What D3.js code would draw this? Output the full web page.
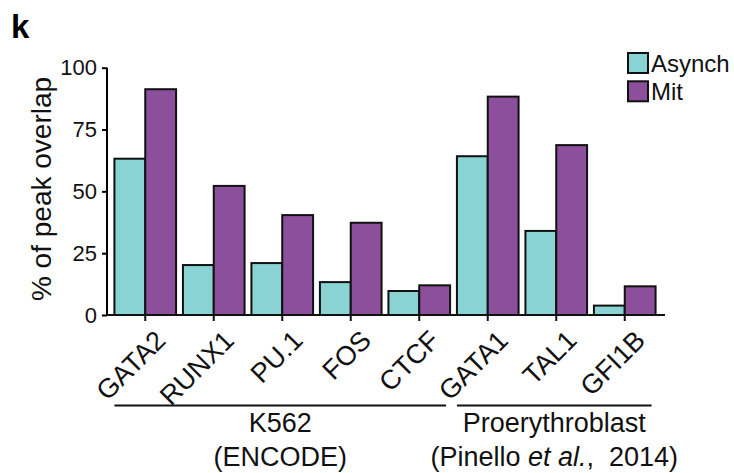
<!DOCTYPE html>
<html>
<head>
<meta charset="utf-8">
<script src="https://cdn.jsdelivr.net/npm/d3@7"></script>
<style>
  body { margin: 0; background: #fff; }
  svg { font-family: "Liberation Sans", Arial, sans-serif; }
</style>
</head>
<body>
<div id="chart"></div>
<script>
// data
const categories = ["GATA2", "RUNX1", "PU.1", "FOS", "CTCF", "GATA1", "TAL1", "GFI1B"];
const asynch = [63.2, 20.2, 21.0, 13.3, 9.7, 64.2, 34.0, 3.8];
const mit = [91.3, 52.2, 40.4, 37.3, 12.0, 88.3, 68.7, 11.6];
const seriesNames = ["Asynch", "Mit"];
const yTicks = [0, 25, 50, 75, 100];
const groups = [
  { label: "K562", sub: "(ENCODE)", first: "GATA2", last: "CTCF" },
  { label: "Proerythroblast", sub: "(Pinello|et al.|,  2014)", first: "GATA1", last: "GFI1B" }
];

const colors = ["#8ad3d5", "#8b4f9b"];
const width = 734, height = 473;
const svg = d3.select("#chart").append("svg")
  .attr("width", width)
  .attr("height", height);

const axisLeftX = 107, axisRightX = 665, baseY = 315, topY = 67.7;

const x = d3.scaleBand()
  .domain(categories)
  .range([111, 659])
  .paddingInner(0.1)
  .paddingOuter(0.05);
const xs = d3.scaleBand()
  .domain(seriesNames)
  .range([0, x.bandwidth()]);
const y = d3.scaleLinear().domain([0, 100]).range([baseY, topY]);

const rows = categories.map((c, i) => ({ cat: c, vals: [asynch[i], mit[i]] }));

// bars
const g = svg.append("g");
g.selectAll("g.cat")
  .data(rows)
  .enter().append("g")
  .attr("transform", d => "translate(" + x(d.cat) + ",0)")
  .selectAll("rect")
  .data(d => d.vals.map((v, j) => ({ v: v, s: seriesNames[j], j: j })))
  .enter().append("rect")
  .attr("x", d => xs(d.s))
  .attr("y", d => y(d.v))
  .attr("width", xs.bandwidth())
  .attr("height", d => baseY - y(d.v))
  .attr("fill", d => colors[d.j])
  .attr("stroke", "#111")
  .attr("stroke-width", 2);

// y axis
const yAxis = svg.append("g")
  .attr("transform", "translate(" + axisLeftX + ",0)")
  .call(d3.axisLeft(y).tickValues(yTicks).tickSize(5).tickPadding(5));
yAxis.select(".domain").attr("stroke-width", 2).attr("d", "M0," + topY + "V" + baseY);
yAxis.selectAll(".tick line").attr("stroke-width", 2);
yAxis.selectAll(".tick text").attr("font-size", 22).attr("fill", "#111");

// x axis
svg.append("line")
  .attr("x1", axisLeftX - 1).attr("x2", axisRightX)
  .attr("y1", baseY).attr("y2", baseY)
  .attr("stroke", "#111").attr("stroke-width", 2);

const xt = svg.append("g").selectAll("g")
  .data(categories)
  .enter().append("g")
  .attr("transform", d => "translate(" + (x(d) + x.bandwidth() / 2) + "," + baseY + ")");
xt.append("line")
  .attr("y2", 6)
  .attr("stroke", "#111").attr("stroke-width", 2);
xt.append("text")
  .attr("transform", "translate(22,27) rotate(-45)")
  .attr("text-anchor", "end")
  .attr("font-size", 27)
  .attr("fill", "#111")
  .text(d => d);

// group brackets
groups.forEach(gr => {
  const x1 = x(gr.first), x2 = x(gr.last) + x.bandwidth() - 4;
  const cx = (x1 + x2) / 2;
  svg.append("line")
    .attr("x1", x1).attr("x2", x2)
    .attr("y1", 405.5).attr("y2", 405.5)
    .attr("stroke", "#111").attr("stroke-width", 2);
  svg.append("text")
    .attr("x", cx).attr("y", 432)
    .attr("text-anchor", "middle")
    .attr("font-size", 27)
    .attr("fill", "#111")
    .text(gr.label);
  const parts = gr.sub.split("|");
  const t = svg.append("text")
    .attr("x", cx).attr("y", 466)
    .attr("text-anchor", "middle")
    .attr("font-size", 27)
    .attr("fill", "#111");
  parts.forEach((p, i) => {
    t.append("tspan")
      .attr("font-style", i === 1 ? "italic" : null)
      .attr("xml:space", "preserve")
      .text(i === 1 ? " " + p : p);
  });
});

// y label
svg.append("text")
  .attr("transform", "translate(51,189) rotate(-90)")
  .attr("text-anchor", "middle")
  .attr("font-size", 28)
  .attr("fill", "#111")
  .text("% of peak overlap");

// panel letter
svg.append("text")
  .attr("x", 11).attr("y", 38)
  .attr("font-size", 33)
  .attr("font-weight", "bold")
  .text("k");

// legend
const leg = svg.append("g").attr("transform", "translate(628,53)");
seriesNames.forEach((s, i) => {
  const row = leg.append("g").attr("transform", "translate(0," + (i * 28.3) + ")");
  row.append("rect")
    .attr("width", 20).attr("height", 20)
    .attr("fill", colors[i])
    .attr("stroke", "#111").attr("stroke-width", 2);
  row.append("text")
    .attr("x", 23).attr("y", 19)
    .attr("font-size", 24)
    .attr("fill", "#111")
    .text(s);
});
</script>
</body>
</html>
